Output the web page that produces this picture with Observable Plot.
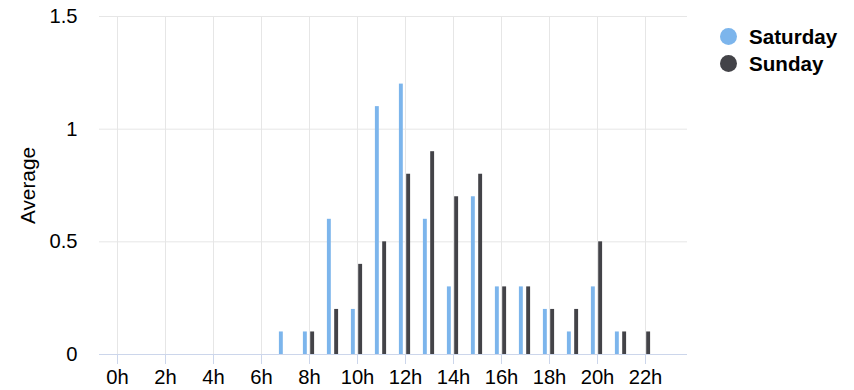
<!DOCTYPE html>
<html><head><meta charset="utf-8">
<script src="https://cdn.jsdelivr.net/npm/d3@7"></script>
<script src="https://cdn.jsdelivr.net/npm/@observablehq/plot@0.6"></script>
<style>
body{margin:0;background:#fff;font-family:"Liberation Sans",Arial,sans-serif;}
#wrap{position:relative;width:854px;height:390px;}
#wrap svg{position:absolute;left:0;top:0;}
#wrap svg text{font-size:20.2px;}
#wrap svg text.ylab{font-size:20.8px;}
#legend{position:absolute;left:720px;top:23px;font-weight:bold;font-size:20.6px;color:#000;}
.item{display:flex;align-items:center;height:27px;}
.sw{width:17px;height:17px;border-radius:50%;margin-right:12px;flex:none;}
</style></head><body><div id="wrap"><div id="legend"></div></div>
<script>
const hours = [0,1,2,3,4,5,6,7,8,9,10,11,12,13,14,15,16,17,18,19,20,21,22,23];
const seriesNames = ["Saturday","Sunday"];
const colors = ["#7cb5ec","#434348"];
const saturday = [0,0,0,0,0,0,0,0.1,0.1,0.6,0.2,1.1,1.2,0.6,0.3,0.7,0.3,0.3,0.2,0.1,0.3,0.1,0,0];
const sunday   = [0,0,0,0,0,0,0,0,0.1,0.2,0.4,0.5,0.8,0.9,0.7,0.8,0.3,0.3,0.2,0.2,0.5,0.1,0.1,0];
const yTicks = [0,0.5,1,1.5];
const xTicks = [0,2,4,6,8,10,12,14,16,18,20,22];
const yLabel = "Average";

const rows = [];
hours.forEach((h,i)=>{
  rows.push({hour:h, series:"Saturday", value:saturday[i]});
  rows.push({hour:h, series:"Sunday", value:sunday[i]});
});
const data = rows.filter(d=>d.value>0);

const plot = Plot.plot({
  width:854, height:390,
  marginLeft:99, marginRight:167, marginTop:16, marginBottom:36,
  style:{fontFamily:'"Liberation Sans", Arial, sans-serif', fontSize:"20px", color:"#000", background:"transparent"},
  x:{type:"band", domain:hours, padding:0},
  y:{domain:[0,1.5]},
  color:{domain:seriesNames, range:colors},
  marks:[
    Plot.gridY(yTicks.filter(t=>t>0), {stroke:"#e6e6e6", strokeOpacity:1}),
    Plot.gridX(xTicks, {stroke:"#e6e6e6", strokeOpacity:1}),
    Plot.barY(data.filter(d=>d.series==="Saturday"), {x:"hour", y:"value", fill:"series", insetLeft:5.9, insetRight:14.2}),
    Plot.barY(data.filter(d=>d.series==="Sunday"), {x:"hour", y:"value", fill:"series", insetLeft:13.2, insetRight:6.9}),
    Plot.ruleY([0], {stroke:"#ccd6eb"}),
    Plot.axisX(xTicks, {tickSize:10, tickPadding:5, stroke:"#ccd6eb", fill:"#000", tickFormat:d=>d+"h", fontSize:20, label:null}),
    Plot.axisY(yTicks, {tickSize:0, tickPadding:22, fill:"#000", tickFormat:d=>String(d), fontSize:20, label:null}),
    Plot.text([yLabel], {frameAnchor:"left", textAnchor:"middle", rotate:-90, dx:-71, fontSize:21, fill:"#000", className:"ylab"})
  ]
});
const wrap = document.getElementById("wrap");
wrap.insertBefore(plot, wrap.firstChild);
plot.querySelectorAll("g.ylab text, .ylab text").forEach(t=>t.classList.add("ylab"));

const legend = document.getElementById("legend");
seriesNames.forEach((s,i)=>{
  const it = document.createElement("div"); it.className="item";
  const sw = document.createElement("span"); sw.className="sw"; sw.style.background=colors[i];
  const t = document.createElement("span"); t.textContent=s;
  it.appendChild(sw); it.appendChild(t); legend.appendChild(it);
});
</script></body></html>
